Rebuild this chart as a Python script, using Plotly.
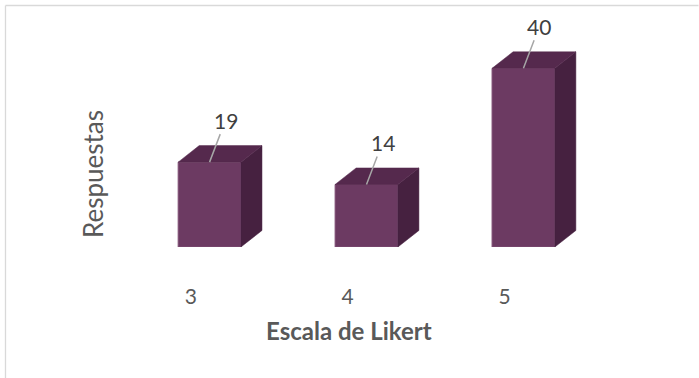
import plotly.graph_objects as go

# Likert-scale response counts
categories = ["3", "4", "5"]
responses = [19, 14, 40]

positions = list(range(len(categories)))

FRONT = "#6C3A62"
TOP = "#55294D"
SIDE = "#462140"
BAR_W = 0.4      # bar width in x units
DEPTH_X = 0.134  # 3D depth offset along x
DEPTH_Y = 3.7    # 3D depth offset along y

FONT = "Lato"

fig = go.Figure()

# front faces
fig.add_trace(go.Bar(
    x=positions, y=responses, width=BAR_W,
    marker=dict(color=FRONT, line=dict(color="#7E4E74", width=1)),
    hoverinfo="skip", showlegend=False,
))

# side and top faces built from each bar's value
for p, v in zip(positions, responses):
    xl, xr = p - BAR_W / 2, p + BAR_W / 2
    fig.add_trace(go.Scatter(
        x=[xr, xr + DEPTH_X, xr + DEPTH_X, xr, xr],
        y=[0, DEPTH_Y, v + DEPTH_Y, v, 0],
        fill="toself", fillcolor=SIDE, mode="lines",
        line=dict(color=SIDE, width=0.5),
        hoverinfo="skip", showlegend=False,
    ))
    fig.add_trace(go.Scatter(
        x=[xl, xr, xr + DEPTH_X, xl + DEPTH_X, xl],
        y=[v, v, v + DEPTH_Y, v + DEPTH_Y, v],
        fill="toself", fillcolor=TOP, mode="lines",
        line=dict(color=TOP, width=0.5),
        hoverinfo="skip", showlegend=False,
    ))

# value labels with leader lines
for p, v in zip(positions, responses):
    fig.add_annotation(
        x=p, y=v, text=str(v), showarrow=True, arrowhead=0,
        arrowwidth=1.5, arrowcolor="#A6A6A6", ax=16, ay=-42,
        font=dict(family=FONT, size=21, color="#404040"),
    )

# axis titles
fig.add_annotation(
    xref="paper", yref="paper", x=(349 - 84) / 565, y=(247 - 330) / 201,
    xanchor="center", yanchor="middle",
    text="<b>Escala de Likert</b>", showarrow=False,
    font=dict(family=FONT, size=24, color="#595959"),
)
fig.add_annotation(
    xref="paper", yref="paper", x=(93 - 84) / 565, y=(247 - 174) / 201,
    xanchor="center", yanchor="middle",
    text="Respuestas", textangle=-90, showarrow=False,
    font=dict(family=FONT, size=26, color="#595959"),
)

# chart frame: top and left edges
frame = dict(color="#D9D9D9", width=1.3)
fig.add_shape(
    type="line", xref="paper", yref="paper",
    x0=(5.5 - 84) / 565, x1=(698.5 - 84) / 565,
    y0=(247 - 5.5) / 201, y1=(247 - 5.5) / 201,
    line=frame, layer="below",
)
fig.add_shape(
    type="line", xref="paper", yref="paper",
    x0=(5.5 - 84) / 565, x1=(5.5 - 84) / 565,
    y0=(247 - 5.5) / 201, y1=(247 - 400) / 201,
    line=frame, layer="below",
)

fig.update_layout(
    width=699, height=378,
    margin=dict(l=84, r=50, t=46, b=131),
    paper_bgcolor="white", plot_bgcolor="white",
    xaxis=dict(
        range=[-0.8, 2.8],
        tickvals=[p - 0.12 for p in positions], ticktext=categories,
        showgrid=False, zeroline=False, showline=False, ticks="",
        ticklabelstandoff=35,
        tickfont=dict(family=FONT, size=21, color="#595959"),
    ),
    yaxis=dict(
        range=[0, 45], showgrid=False, zeroline=False,
        showline=False, showticklabels=False, ticks="",
    ),
)

fig.write_html("out.html")
